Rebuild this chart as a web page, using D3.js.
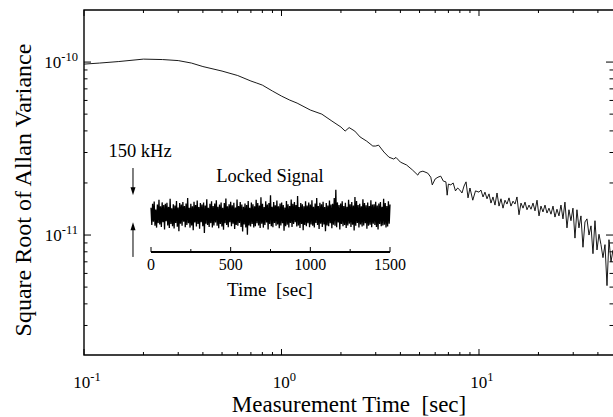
<!DOCTYPE html>
<html>
<head>
<meta charset="utf-8">
<script src="https://cdn.jsdelivr.net/npm/d3@7"></script>
<style>
  body { margin: 0; background: #fff; }
  svg { display: block; }
  text { font-family: "Liberation Serif", "Times New Roman", serif; fill: #000; white-space: pre; }
</style>
</head>
<body>
<div id="chart"></div>
<script>
// averaging time (s), smooth part of the curve
var tauSmooth = [0.1, 0.12, 0.15, 0.2, 0.25, 0.3, 0.35, 0.4, 0.5, 0.6,
  0.7, 0.75, 0.8, 0.9, 1.0, 1.1, 1.2, 1.4, 1.6, 1.8,
  2.0, 2.1, 2.2, 2.35, 2.5, 2.7, 2.9, 3.0, 3.1, 3.3,
  3.5, 3.7, 3.8, 4.0, 4.3, 4.6, 4.9, 5.0, 5.2, 5.5,
  5.7, 5.8, 6.0, 6.2, 6.4, 6.6, 6.8, 6.9, 7.0, 7.2,
  7.4, 7.6, 7.8, 8.0, 8.2, 8.4, 8.6, 8.8, 9.0, 9.3,
  9.6, 10.0];
// sqrt of Allan variance, in units of 1e-11
var sigmaSmooth = [9.73, 9.87, 10.07, 10.40, 10.34, 10.20, 9.87, 9.42, 8.87, 8.36,
  7.77, 7.56, 7.36, 6.80, 6.36, 6.03, 5.79, 5.28, 5.00, 4.56,
  4.21, 3.99, 4.18, 3.99, 3.69, 3.49, 3.27, 3.27, 3.31, 3.02,
  2.82, 2.75, 2.81, 2.64, 2.54, 2.38, 2.22, 2.31, 2.34, 2.28,
  2.16, 1.95, 2.11, 2.16, 2.19, 2.05, 2.03, 1.70, 1.97, 1.95,
  2.00, 1.80, 1.87, 1.82, 1.75, 1.92, 2.03, 1.64, 1.87, 1.59,
  1.80, 1.77];

// noisy tail (tau > 10 s)
var tauNoisy = [10.23, 10.48, 10.72, 10.98, 11.24, 11.50, 11.77, 12.05, 12.34, 12.63,
  12.92, 13.23, 13.54, 13.86, 14.19, 14.52, 14.87, 15.22, 15.57, 15.94,
  16.32, 16.71, 17.10, 17.50, 17.92, 18.34, 18.77, 19.21, 19.67, 20.13,
  20.60, 21.09, 21.59, 22.10, 22.61, 23.15, 23.70, 24.25, 24.82, 25.41,
  26.01, 26.62, 27.24, 27.89, 28.54, 29.22, 29.91, 30.62, 31.33, 32.07,
  32.83, 33.61, 34.40, 35.21, 36.06, 36.91, 37.77, 38.66, 39.58, 40.51,
  41.46, 42.44, 43.45, 44.47, 45.51, 46.60, 47.69];
var sigmaNoisy = [1.82, 1.66, 1.77, 1.62, 1.73, 1.53, 1.66, 1.49, 1.75, 1.47,
  1.62, 1.43, 1.59, 1.51, 1.64, 1.47, 1.57, 1.51, 1.66, 1.31,
  1.53, 1.43, 1.55, 1.40, 1.49, 1.41, 1.53, 1.38, 1.59, 1.29,
  1.47, 1.36, 1.49, 1.34, 1.43, 1.32, 1.47, 1.27, 1.41, 1.29,
  1.49, 1.24, 1.55, 1.10, 1.40, 1.21, 1.43, 0.96, 1.40, 1.10,
  1.29, 0.85, 1.19, 1.24, 1.00, 1.13, 0.78, 1.21, 0.82, 1.01,
  0.88, 0.74, 0.88, 0.51, 0.94, 0.70, 0.82];

var xMajor = [0.1, 1, 10];
var xMinor = [0.2, 0.3, 0.4, 0.5, 0.6, 0.7, 0.8, 0.9, 2, 3, 4, 5, 6, 7, 8, 9, 20, 30, 40];
var yMajor = [1e-10, 1e-11];
var yMinor = [3e-12, 4e-12, 5e-12, 6e-12, 7e-12, 8e-12, 9e-12,
  2e-11, 3e-11, 4e-11, 5e-11, 6e-11, 7e-11, 8e-11, 9e-11];

// inset: locked beat signal, kHz offset, one sample every 5 s
var sampleStep = 5;
var lockedSignal = [
  40, -55, 62, -38, 75, -60, 30, -70, 58, -45, 85, -52, 48, -66, 70, -40, 55, -80, 62, -35,
  68, -58, 45, -72, 90, -50, 38, -62, 60, -75, 52, -44, 78, -65, 42, -90, 66, -48, 58, -60,
  72, -38, 50, -68, 64, -55, 95, -46, 40, -70, 62, -58, 48, -85, 74, -42, 56, -64, 80, -50,
  44, -76, 66, -40, 58, -62, 70, -100, 52, -48, 88, -56, 40, -66, 62, -45, 76, -70, 50, -58,
  64, -42, 82, -60, 46, -74, 58, -50, 70, -64, 40, -82, 66, -46, 92, -55, 48, -68, 60, -40,
  74, -62, 54, -48, 68, -78, 42, -56, 86, -60, 50, -44, 72, -66, 58, -92, 46, -52, 64, -70,
  56, -110, 78, -58, 40, -64, 70, -50, 60, -70, 48, -62, 84, -46, 66, -58, 52, -72, 98, -48,
  62, -70, 44, -56, 76, -42, 58, -80, 66, -50, 110, -62, 46, -68, 72, -44, 54, -60, 80, -52,
  48, -74, 64, -58, 70, -46, 56, -88, 42, -62, 78, -54, 60, -70, 50, -44, 86, -66, 62, -50,
  72, -40, 56, -64, 105, -58, 44, -72, 66, -50, 60, -84, 48, -56, 76, -62, 52, -46, 70, -68,
  58, -52, 82, -60, 46, -70, 64, -44, 95, -56, 50, -78, 68, -48, 60, -66, 74, -52, 44, -90,
  66, -58, 52, -62, 80, -46, 58, -74, 62, -54, 94, -60, 140, -68, 70, -42, 56, -80, 64, -50,
  76, -62, 50, -56, 68, -72, 46, -58, 84, -48, 60, -66, 72, -54, 52, -86, 100, -60, 78, -44,
  56, -70, 62, -52, 48, -64, 88, -58, 66, -46, 54, -76, 70, -60, 50, -54, 82, -68, 58, -48,
  60, -56, 74, -66, 52, -80, 64, -50, 72, -62, 46, -58, 90, -54, 66, -70, 50, -64, 76, -48, 58];
var insetTicks = [0, 500, 1000, 1500];
var insetMinor = [250, 750, 1250];
var spanTop = 110, spanBottom = -40; // 150 kHz between the arrow tips
var arrowTime = -113;

var width = 613, height = 417;
var mLeft = 84, mRight = 613, mTop = 10, mBottom = 355;

var svg = d3.select("#chart").append("svg")
  .attr("width", width).attr("height", height);

var x = d3.scaleLog().domain([0.1, 47.7]).range([mLeft, mRight]);
var y = d3.scaleLog().domain([2.025e-12, 2.0e-10]).range([mBottom, mTop]);

// clip for curve
svg.append("clipPath").attr("id", "clip")
  .append("rect").attr("x", mLeft).attr("y", mTop)
  .attr("width", mRight - mLeft).attr("height", mBottom - mTop);

var pts = [];
tauSmooth.forEach(function (t, i) { pts.push([t, sigmaSmooth[i] * 1e-11]); });
tauNoisy.forEach(function (t, i) { pts.push([t, sigmaNoisy[i] * 1e-11]); });

var lineFunc = d3.line()
  .x(function (d) { return x(d[0]); })
  .y(function (d) { return y(d[1]); });

svg.append("path")
  .attr("d", lineFunc(pts))
  .attr("clip-path", "url(#clip)")
  .attr("fill", "none")
  .attr("stroke", "#000")
  .attr("stroke-width", 0.9);

// frame ticks, all pointing inward
function tickLines(vals, len, side) {
  var g = svg.append("g").attr("stroke", "#000").attr("stroke-width", 1);
  vals.forEach(function (v) {
    if (side == "bottom") g.append("line").attr("x1", x(v)).attr("x2", x(v)).attr("y1", mBottom).attr("y2", mBottom - len);
    if (side == "top") g.append("line").attr("x1", x(v)).attr("x2", x(v)).attr("y1", mTop).attr("y2", mTop + len);
    if (side == "left") g.append("line").attr("x1", mLeft).attr("x2", mLeft + len).attr("y1", y(v)).attr("y2", y(v));
    if (side == "right") g.append("line").attr("x1", mRight).attr("x2", mRight - len).attr("y1", y(v)).attr("y2", y(v));
  });
}
tickLines(xMajor, 6, "bottom");
tickLines(xMinor, 3, "bottom");
tickLines(xMajor, 6, "top");
tickLines(xMinor, 3, "top");
tickLines(yMajor, 7, "left");
tickLines(yMinor, 3.5, "left");
tickLines(yMajor, 7, "right");
tickLines(yMinor, 3.5, "right");

// frame
svg.append("path")
  .attr("d", "M" + mRight + "," + mTop + "H" + mLeft + "V" + mBottom + "H" + mRight)
  .attr("fill", "none").attr("stroke", "#000").attr("stroke-width", 1.4);

function powLabel(px, py, v, anchor) {
  var e = Math.round(Math.log10(v));
  var t = svg.append("text").attr("x", px).attr("y", py)
    .attr("text-anchor", anchor).style("font-size", "17px");
  t.append("tspan").text("10");
  t.append("tspan").attr("dy", -7).style("font-size", "12.5px").text(e);
}
yMajor.forEach(function (v) { powLabel(78, y(v) + 6, v, "end"); });
xMajor.forEach(function (v) { powLabel(x(v) + 3, 388, v, "middle"); });

svg.append("text")
  .attr("x", 349).attr("y", 412)
  .attr("text-anchor", "middle")
  .style("font-size", "23px")
  .text("Measurement Time  [sec]");

svg.append("text")
  .attr("transform", "translate(31,190) rotate(-90)")
  .attr("text-anchor", "middle")
  .style("font-size", "24px")
  .text("Square Root of Allan Variance");

// ---- inset ----
var tx = d3.scaleLinear().domain([0, 1500]).range([151, 390]);
var ty = d3.scaleLinear().domain([-100, 100]).range([233, 197]);
var insetAxisY = 252;

var sigLine = d3.line()
  .x(function (d, i) { return tx(i * sampleStep); })
  .y(function (d) { return ty(d); });

svg.append("path")
  .attr("d", sigLine(lockedSignal))
  .attr("fill", "none")
  .attr("stroke", "#000")
  .attr("stroke-width", 1.3);

var ig = svg.append("g").attr("stroke", "#000").attr("stroke-width", 1);
insetTicks.forEach(function (v) {
  ig.append("line").attr("x1", tx(v)).attr("x2", tx(v)).attr("y1", insetAxisY).attr("y2", insetAxisY - 5);
});
insetMinor.forEach(function (v) {
  ig.append("line").attr("x1", tx(v)).attr("x2", tx(v)).attr("y1", insetAxisY).attr("y2", insetAxisY - 3);
});
svg.append("line")
  .attr("x1", tx(0)).attr("x2", tx(1500))
  .attr("y1", insetAxisY).attr("y2", insetAxisY)
  .attr("stroke", "#000").attr("stroke-width", 1.8);

insetTicks.forEach(function (v) {
  svg.append("text").attr("x", tx(v)).attr("y", 270)
    .attr("text-anchor", "middle").style("font-size", "16px").text(v);
});
svg.append("text").attr("x", 270).attr("y", 296)
  .attr("text-anchor", "middle").style("font-size", "19px").text("Time  [sec]");
svg.append("text").attr("x", 270).attr("y", 182)
  .attr("text-anchor", "middle").style("font-size", "18.5px").text("Locked Signal");
svg.append("text").attr("x", 140).attr("y", 157)
  .attr("text-anchor", "middle").style("font-size", "18.5px").text("150 kHz");

// arrows marking the 150 kHz span
function arrow(fromV, toV) {
  var ax = tx(arrowTime), y0 = ty(fromV), y1 = ty(toV);
  var dir = y1 > y0 ? 1 : -1;
  svg.append("line").attr("x1", ax).attr("x2", ax).attr("y1", y0).attr("y2", y1 - dir * 6)
    .attr("stroke", "#000").attr("stroke-width", 1);
  svg.append("path")
    .attr("d", "M" + ax + "," + y1 + "L" + (ax - 2.5) + "," + (y1 - dir * 8) + "L" + (ax + 2.5) + "," + (y1 - dir * 8) + "Z")
    .attr("fill", "#000");
}
arrow(261, spanTop);
arrow(-233, spanBottom);
</script>
</body>
</html>
